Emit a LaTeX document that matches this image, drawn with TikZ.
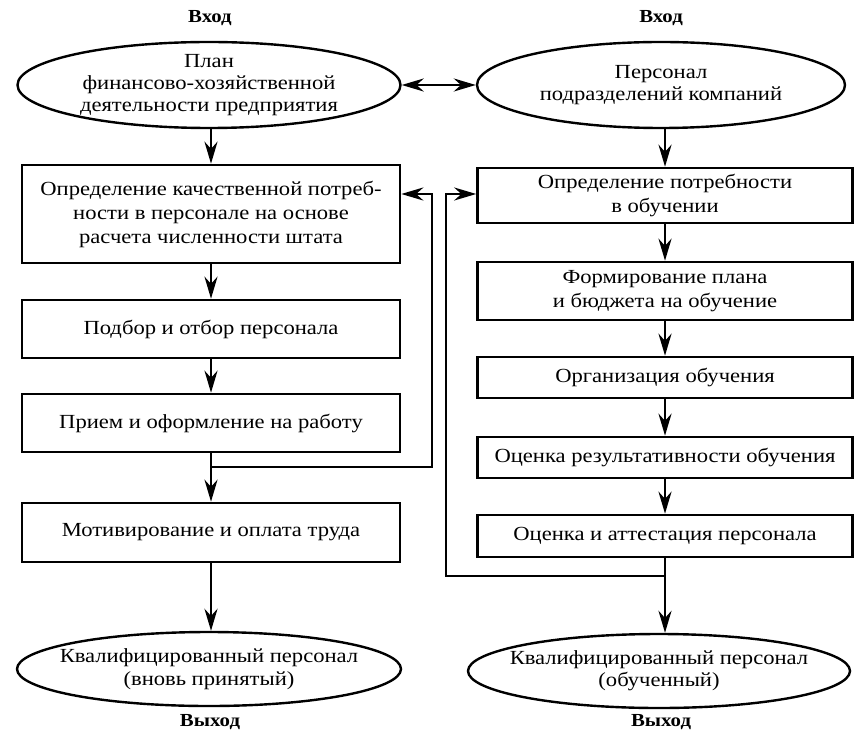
\documentclass[tikz,border=0pt]{standalone}
\usepackage{fontspec}
\setmainfont{Liberation Serif}[FakeStretch=1.13]
\usetikzlibrary{shapes.geometric,arrows.meta}
\tikzset{
  box/.style={draw, line width=1.3pt, rectangle, minimum width=189pt, align=center, inner sep=0pt,
    font=\fontsize{10pt}{12pt}\selectfont},
  rbox/.style={box, minimum width=187.5pt},
  oval/.style={draw, line width=1.2pt, ellipse, inner sep=0pt},
  txt/.style={align=center, inner sep=0pt, font=\fontsize{10pt}{11.2pt}\selectfont},
  lbl/.style={font=\fontsize{9.2pt}{11pt}\selectfont\bfseries},
  arr/.style={line width=1.3pt, -{Stealth[length=11pt,width=6.5pt]}},
  darr/.style={line width=1.3pt, {Stealth[length=11pt,width=6.5pt]}-{Stealth[length=11pt,width=6.5pt]}},
}
\begin{document}
\begin{tikzpicture}[x=0.5pt,y=-0.5pt]
\useasboundingbox (0,0) rectangle (854,737);
% labels
\node[lbl] (in1) at (210,18) {Вход};
\node[lbl] (in2) at (661,18) {Вход};
\node[lbl] (out1) at (210,722) {Выход};
\node[lbl] (out2) at (661,722) {Выход};
% top ellipses
\node[oval, minimum width=191.5pt, minimum height=43pt] (pl) at (209,85) {};
\node[txt] (plt) at (pl) {План\\финансово-хозяйственной\\деятельности предприятия};
\node[oval, minimum width=184pt, minimum height=43pt] (ps) at (661,85) {};
\node[txt] (pst) at (ps) {Персонал\\подразделений компаний};
% left column
\node[box, minimum height=49pt] (l1) at (211,214)
  {Определение качественной потреб-\\ности в персонале на основе\\расчета численности штата};
\node[box, minimum height=29pt] (l2) at (211,329) {Подбор и отбор персонала};
\node[box, minimum height=29pt] (l3) at (211,423) {Прием и оформление на работу};
\node[box, minimum height=29.5pt] (l4) at (211,532.5) {Мотивирование и оплата труда};
\node[oval, minimum width=192pt, minimum height=37pt] (bl) at (209,669) {};
\node[txt] (blt) at (bl) {Квалифицированный персонал\\(вновь принятый)};
% right column
\node[rbox, minimum height=27.5pt] (r1) at (665,195.5) {Определение потребности\\в обучении};
\node[rbox, minimum height=29pt] (r2) at (665,291) {Формирование плана\\и бюджета на обучение};
\node[rbox, minimum height=20.5pt] (r3) at (665,377.5) {Организация обучения};
\node[rbox, minimum height=20.5pt] (r4) at (665,457.5) {Оценка результативности обучения};
\node[rbox, minimum height=21pt] (r5) at (665,536) {Оценка и аттестация персонала};
\node[oval, minimum width=191pt, minimum height=37pt] (br) at (659,671) {};
\node[txt] (brt) at (br) {Квалифицированный персонал\\(обученный)};
% connectors
\draw[darr] (pl.east) -- (ps.west);
\draw[arr] (l1.north |- pl.south) -- (l1.north);
\draw[arr] (l1) -- (l2);
\draw[arr] (l2) -- (l3);
\draw[arr] (l3) -- (l4);
\draw[arr] (l4.south) -- (l4.south |- bl.north);
\draw[arr] (r1.north |- ps.south) -- (r1.north);
\draw[arr] (r1) -- (r2);
\draw[arr] (r2) -- (r3);
\draw[arr] (r3) -- (r4);
\draw[arr] (r4) -- (r5);
\draw[arr] (r5.south) -- (r5.south |- br.north);
% feedback loops
\coordinate (j1) at (211,467);
\coordinate (lj) at (432,467);
\coordinate (lt) at (432,194);
\draw[arr] (j1) -- (lj) -- (lt) -- (lt -| l1.east);
\coordinate (j2) at (665,576);
\coordinate (rj) at (446,576);
\coordinate (rt) at (446,194);
\draw[arr] (j2) -- (rj) -- (rt) -- (rt -| r1.west);
\end{tikzpicture}
\end{document}
